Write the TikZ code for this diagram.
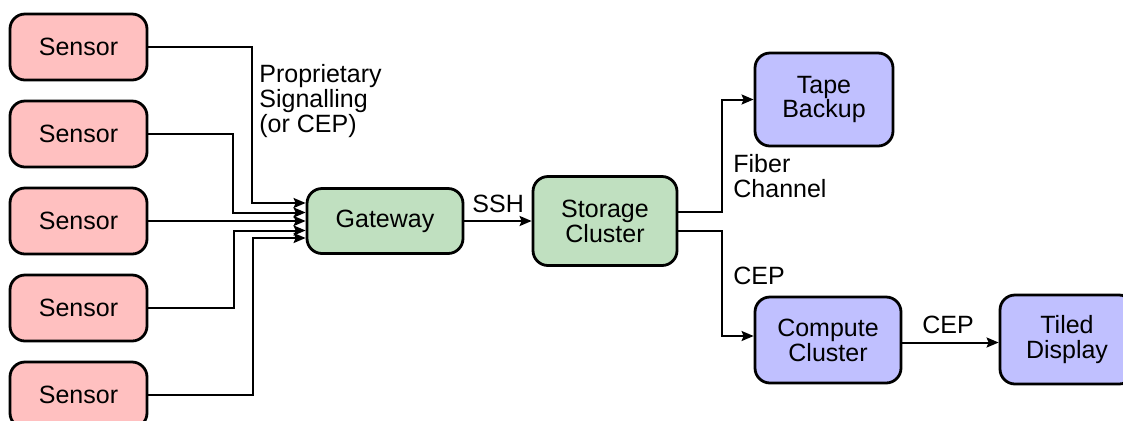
\documentclass[tikz,border=0pt]{standalone}
\usepackage{fontspec}
\setmainfont{Liberation Sans}
\usetikzlibrary{arrows.meta,calc}
\definecolor{sensorfill}{RGB}{255,192,192}
\definecolor{greenfill}{RGB}{192,224,192}
\definecolor{bluefill}{RGB}{192,192,255}
\tikzset{
  box/.style={draw=black,line width=1.4pt,rounded corners=7.5pt,align=center,
    font=\fontsize{12.5}{12.4}\selectfont,inner sep=0pt},
  sensor/.style={box,fill=sensorfill,minimum width=68.5pt,minimum height=33pt},
  gbox/.style={box,fill=greenfill},
  bbox/.style={box,fill=bluefill},
  conn/.style={line width=1pt,-{Stealth[length=6pt,width=5pt,inset=1pt]}},
  lbl/.style={font=\fontsize{12.5}{12.4}\selectfont,align=left,inner sep=0pt}
}
\begin{document}
\begin{tikzpicture}[x=0.5pt,y=-0.5pt]
\useasboundingbox (0,0) rectangle (1123,420);
% sensors
\node[sensor] (s1) at (78.5,47) {Sensor};
\node[sensor] (s2) at (78.5,134) {Sensor};
\node[sensor] (s3) at (78.5,221) {Sensor};
\node[sensor] (s4) at (78.5,308) {Sensor};
\node[sensor] (s5) at (78.5,395) {Sensor};
% main nodes
\node[gbox,minimum width=78pt,minimum height=32.5pt] (gw) at (385,221) {Gateway};
\node[gbox,minimum width=72pt,minimum height=44.5pt] (st) at (605,221) {Storage\\Cluster};
\node[bbox,minimum width=69pt,minimum height=46.5pt] (tp) at (824,99.5) {Tape\\Backup};
\node[bbox,minimum width=73pt,minimum height=43pt] (cc) at (828,340) {Compute\\Cluster};
\node[bbox,minimum width=67pt,minimum height=44.5pt] (td) at (1067,339.5) {Tiled\\Display};
% sensor connectors
\coordinate (g1) at ($(gw.west)+(0,-18)$);
\coordinate (g2) at ($(gw.west)+(0,-8.5)$);
\coordinate (g4) at ($(gw.west)+(0,9.5)$);
\coordinate (g5) at ($(gw.west)+(0,17)$);
\draw[conn] (s1.east) -- (s1.east -| 252,0) |- (g1);
\draw[conn] (s2.east) -- (s2.east -| 233,0) |- (g2);
\draw[conn] (s3.east) -- (gw.west);
\draw[conn] (s4.east) -- (s4.east -| 234,0) |- (g4);
\draw[conn] (s5.east) -- (s5.east -| 253,0) |- (g5);
% gateway to storage
\draw[conn] (gw.east) -- (st.west);
% storage outputs
\coordinate (o1) at ($(st.east)+(0,-9)$);
\coordinate (o2) at ($(st.east)+(0,10)$);
\coordinate (ci) at ($(cc.west)+(0,-4)$);
\coordinate (co) at ($(cc.east)+(0,2.5)$);
\draw[conn] (o1) -- (o1 -| 722,0) |- (tp.west);
\draw[conn] (o2) -- (o2 -| 722,0) |- (ci);
\draw[conn] (co) -- (co -| td.west);
% labels
\node[lbl,anchor=north west] (lp) at (259,64) {Proprietary\\Signalling\\(or CEP)};
\node[lbl,anchor=base west] (lssh) at (472,212) {SSH};
\node[lbl,anchor=north west] (lfc) at (733,154) {Fiber\\Channel};
\node[lbl,anchor=base west] (lcep1) at (733,284) {CEP};
\node[lbl,anchor=base west] (lcep2) at (922,333) {CEP};
\end{tikzpicture}
\end{document}
